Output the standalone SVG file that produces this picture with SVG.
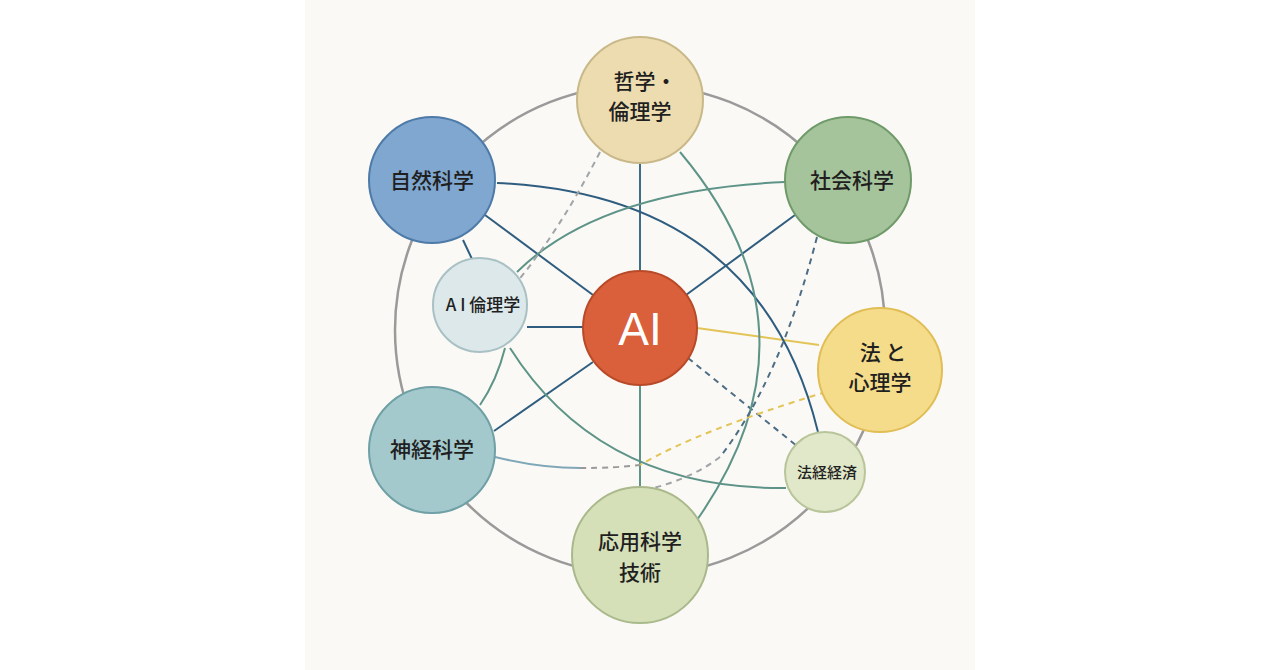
<svg xmlns="http://www.w3.org/2000/svg" width="1280" height="670" viewBox="0 0 1280 670">
<style>
.t{font-family:"Noto Sans CJK JP","Noto Sans",sans-serif;fill:#1f1f1f;text-anchor:middle;font-weight:500}
.c{fill:none;stroke-width:2}
.b{stroke:#2f5d80}
.g{stroke:#5e9488}
.d{stroke-dasharray:6 5}
</style>
<rect width="1280" height="670" fill="#ffffff"/>
<rect x="305" y="0" width="670" height="670" fill="#fbf9f5"/>
<circle cx="640" cy="330" r="245" fill="none" stroke="#9a9a9a" stroke-width="2.5"/>
<g id="connectors">
<line class="c b" x1="640" y1="160" x2="640" y2="272" style="stroke:#3f6d85"/>
<line class="c g" x1="640" y1="385" x2="640" y2="490"/>
<line class="c b" x1="485" y1="215" x2="593" y2="295"/>
<line class="c b" x1="463" y1="240" x2="472" y2="259"/>
<line class="c b" x1="527" y1="327" x2="583" y2="327"/>
<line class="c b" x1="494" y1="431" x2="593" y2="362"/>
<line class="c b" x1="795" y1="215" x2="686" y2="295"/>
<line class="c" stroke="#e2c457" x1="697" y1="328" x2="819" y2="345"/>
<line class="c b d" x1="688" y1="358" x2="797" y2="446" style="stroke:#4d6d85"/>
<path class="c b" d="M497,183 Q760,195 818,432"/>
<path class="c g" d="M785,182 Q600,190 517,272"/>
<path class="c g" d="M505,348 Q497,380 480,405"/>
<path class="c g" d="M510,348 Q600,490 786,488"/>
<path class="c g" d="M680,152 Q830,330 697,520"/>
<path class="c" stroke="#7fa7b8" d="M495,457 Q540,468 580,468"/>
<path class="c d" stroke="#9a9a9a" d="M580,468 Q615,468 640,465"/>
<path class="c d" stroke="#e2c457" d="M826,392 Q700,430 640,465"/>
<path class="c d" stroke="#9fa5a8" d="M600,152 Q560,230 517,282"/>
<path class="c d" stroke="#4d6d85" d="M817,237 Q780,380 720,457"/>
<path class="c d" stroke="#a0a4a6" d="M720,457 Q690,480 645,490"/>
</g>
<g id="n-philo"><circle cx="640" cy="100" r="63" fill="#ecdcb0" stroke="#c9b98a" stroke-width="2"/><text class="t" x="645" y="89" font-size="21">哲学・</text><text class="t" x="640" y="119" font-size="21">倫理学</text></g>
<g id="n-nat"><circle cx="432" cy="180" r="63" fill="#7fa7cf" stroke="#4e7aa8" stroke-width="2"/><text class="t" x="432" y="188" font-size="21">自然科学</text></g>
<g id="n-soc"><circle cx="848" cy="180" r="63" fill="#a6c49b" stroke="#6f9a6a" stroke-width="2"/><text class="t" x="852" y="188" font-size="21">社会科学</text></g>
<g id="n-aieth"><circle cx="480" cy="305" r="47" fill="#dce8ea" stroke="#a9c1c4" stroke-width="2"/><text class="t" x="483" y="311" font-size="17">A I 倫理学</text></g>
<g id="n-ai"><circle cx="640" cy="328" r="57" fill="#d9603a" stroke="#b84a2a" stroke-width="2"/><text x="640" y="345" font-size="46" font-family="Liberation Sans,Arial,sans-serif" fill="#ffffff" text-anchor="middle">AI</text></g>
<g id="n-law"><circle cx="880" cy="370" r="62" fill="#f5dc8a" stroke="#e0bd55" stroke-width="2"/><text class="t" x="883" y="360" font-size="21">法 と</text><text class="t" x="880" y="390" font-size="21">心理学</text></g>
<g id="n-neuro"><circle cx="432" cy="450" r="63" fill="#a3c9cc" stroke="#6fa0a6" stroke-width="2"/><text class="t" x="432" y="457" font-size="21">神経科学</text></g>
<g id="n-lawecon"><circle cx="825" cy="472" r="40" fill="#e1e8c9" stroke="#b8c49a" stroke-width="2"/><text class="t" x="827" y="478" font-size="15">法経経済</text></g>
<g id="n-app"><circle cx="640" cy="555" r="68" fill="#d6e0b8" stroke="#a9b98c" stroke-width="2"/><text class="t" x="640" y="549" font-size="21">応用科学</text><text class="t" x="640" y="580" font-size="21">技術</text></g>
</svg>
